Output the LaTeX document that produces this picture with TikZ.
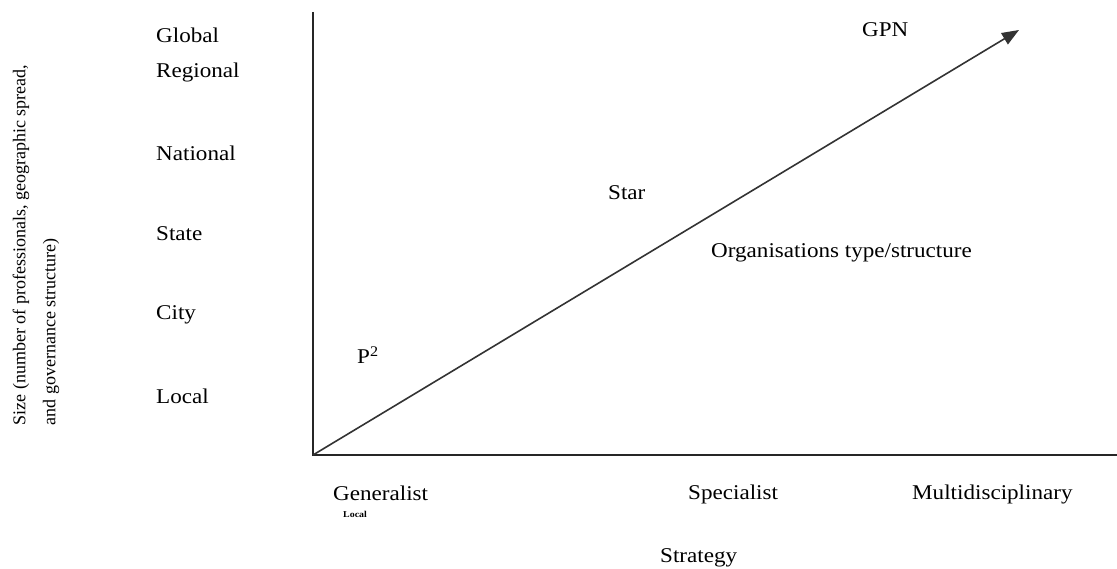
\documentclass[tikz,border=0pt]{standalone}
\usepackage{fontspec}
\setmainfont{Liberation Serif}[FakeStretch=1.1]
\newfontfamily\plainserif{Liberation Serif}
\usetikzlibrary{arrows.meta}
\begin{document}
\begin{tikzpicture}[x=1pt,y=-1pt,
  lbl/.style={anchor=west,inner sep=0pt,font=\fontsize{21}{23}\selectfont},
  axisline/.style={line width=1.6pt,draw=black!85},
  diag/.style={line width=1.6pt,draw=black!80,-{Triangle[length=17pt,width=13pt]}}]
\useasboundingbox (0,0) rectangle (1117,569);
\coordinate (O) at (313,455);
\coordinate (top) at (313,12);
\coordinate (right) at (1117,455);
\coordinate (tip) at (1019,30);
\draw[axisline] (top) -- (O) -- (right);
\draw[diag] (O) -- (tip);
\node[lbl] (global) at (156,35) {Global};
\node[lbl] (regional) at (156,72) {Regional};
\node[lbl] (national) at (156,153) {National};
\node[lbl] (state) at (156,234) {State};
\node[lbl] (city) at (156,315) {City};
\node[lbl] (local) at (156,396) {Local};
\node[rotate=90,align=left,inner sep=0pt,font=\plainserif\fontsize{18}{30}\selectfont] (ylab) at (36,245)
  {Size (number of professionals, geographic spread,\\and governance structure)};
\node[lbl] (p2) at (357,355) {P\textsuperscript{2}};
\node[lbl] (star) at (608,193) {Star};
\node[lbl] (gpn) at (862,30) {GPN};
\node[lbl] (org) at (711,253) {Organisations type/structure};
\node[lbl] (gen) at (333,493) {Generalist};
\node[anchor=west,inner sep=0pt,font=\fontsize{9}{10}\selectfont\bfseries] (loc2) at (343,514) {Local};
\node[lbl] (spec) at (688,494) {Specialist};
\node[lbl] (multi) at (912,494) {Multidisciplinary};
\node[lbl] (strat) at (660,558) {Strategy};
\end{tikzpicture}
\end{document}
